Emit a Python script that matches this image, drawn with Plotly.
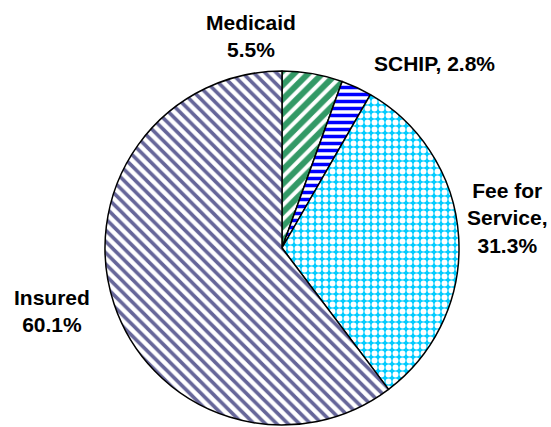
import plotly.graph_objects as go

# Data
categories = ["Medicaid", "SCHIP", "Fee for Service", "Insured"]
values = [5.5, 2.8, 31.3, 60.1]
label_texts = ["Medicaid<br>5.5%", "SCHIP, 2.8%", "Fee for<br>Service,<br>31.3%", "Insured<br>60.1%"]

# Styles
fg_colors = ["#339966", "#0000ff", "#ffffff", "#666699"]
bg_colors = ["#ffffff", "#ffffff", "#00ccff", "#ffffff"]
shapes = ["/", "-", ".", "\\"]
sizes = [10, 7, 7, 8]
solidities = [0.6, 0.5, 0.55, 0.45]
label_pos = [(251, 36), (434, 64), (507, 218), (52, 311)]

W, H = 551, 427
cx, cy, r = 282, 248, 177

fig = go.Figure(go.Pie(
    labels=categories,
    values=values,
    sort=False,
    direction="clockwise",
    rotation=0,
    textinfo="none",
    hoverinfo="label+percent",
    marker=dict(
        colors=bg_colors,
        line=dict(color="black", width=1.5),
        pattern=dict(shape=shapes, fgcolor=fg_colors, bgcolor=bg_colors,
                     size=sizes, solidity=solidities, fillmode="replace"),
    ),
    domain=dict(x=[(cx - r) / W, (cx + r) / W],
                y=[(H - cy - r) / H, (H - cy + r) / H]),
))

for txt, (px, py) in zip(label_texts, label_pos):
    fig.add_annotation(
        x=px / W, y=1 - py / H, xref="paper", yref="paper",
        text="<b>" + txt + "</b>", showarrow=False,
        xanchor="center", yanchor="middle", align="center",
        font=dict(family="Liberation Sans, Arial", size=21, color="black"),
    )

fig.update_layout(
    width=W, height=H,
    margin=dict(l=0, r=0, t=0, b=0),
    showlegend=False,
    paper_bgcolor="white",
    plot_bgcolor="white",
)

fig.write_html(
    "out.html",
    config={"displayModeBar": False},
    post_script="document.body.style.margin='0';document.documentElement.style.overflow='hidden';",
)
